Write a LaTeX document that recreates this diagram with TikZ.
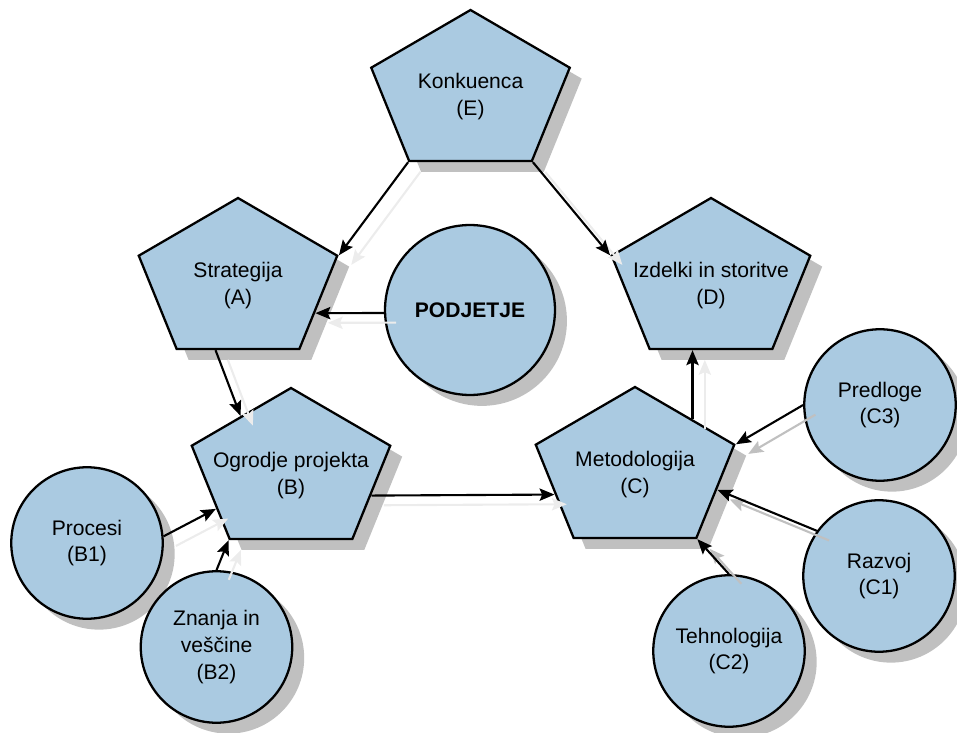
\documentclass[tikz,border=0pt]{standalone}
\usepackage{fontspec}
\setmainfont{Liberation Sans}
\usetikzlibrary{shapes.geometric, shadows, arrows.meta, calc}
\definecolor{nodeblue}{RGB}{170,202,225}
\definecolor{shadegray}{RGB}{192,192,192}

\begin{document}
\begin{tikzpicture}[x=0.02cm, y=-0.02cm,
    every node/.style={font=\fontsize{12}{15.3}\selectfont, align=center},
    pent/.style={regular polygon, regular polygon sides=5, draw, line width=1.3pt, fill=nodeblue,
        inner sep=0pt, minimum size=3.34cm, xscale=1.25,
        drop shadow={shadow xshift=6.8pt, shadow yshift=-6.2pt, opacity=1, fill=shadegray}},
    blob/.style={circle, draw, line width=1.3pt, fill=nodeblue, inner sep=0pt, minimum size=3.03cm,
        drop shadow={shadow xshift=6.8pt, shadow yshift=-6.2pt, opacity=1, fill=shadegray}},
    link/.style={-{Stealth[length=8.5pt, width=7pt, inset=1.5pt]}, line width=1.2pt},
    lshade/.style={preaction={draw=#1, line width=1.2pt, -{Stealth[length=8.5pt, width=7pt, inset=1.5pt]},
        transform canvas={xshift=7pt, yshift=-5.5pt}}},
    lshade/.default=gray!15]
    \useasboundingbox (0,0) rectangle (957,733);

    % Pentagons
    \node[pent] (E) at (470.5,93.5) {};
    \node[pent] (A) at (238,281.5) {};
    \node[pent] (D) at (711,281.5) {};
    \node[pent] (B) at (291,471.5) {};
    \node[pent] (C) at (635,470.5) {};
    \node (E-t) at ([yshift=-1.5pt]E) {Konkuenca\\(E)};
    \node (A-t) at ([yshift=-2.5pt]A) {Strategija\\(A)};
    \node (D-t) at ([yshift=-2.5pt]D) {Izdelki in storitve\\(D)};
    \node (B-t) at ([yshift=-2.5pt]B) {Ogrodje projekta\\(B)};
    \node (C-t) at ([yshift=-2.5pt]C) {Metodologija\\(C)};

    % Circles
    \node[blob, minimum size=3.4cm, font=\fontsize{12}{15.3}\selectfont\bfseries] (pod) at (470,310) {PODJETJE};
    \node[blob] (B1) at (87,543) {Procesi\\(B1)};
    \node[blob] (B2) at (216.5,647) {Znanja in\\veščine\\(B2)};
    \node[blob] (C3) at (880,405) {Predloge\\(C3)};
    \node[blob] (C1) at (879,576) {Razvoj\\(C1)};
    \node[blob] (C2) at (729,651) {Tehnologija\\(C2)};

    % Connectors
    \coordinate (cd) at ($(C.corner 1)!0.57!(C.corner 5)$);
    \draw[link, lshade] (E.corner 3) -- (A.corner 5);
    \draw[link, lshade] (E.corner 4) -- (D.corner 2);
    \draw[link, lshade] (pod.182) -- ($(A.corner 5)!0.61!(A.corner 4)$);
    \draw[link, lshade] ($(A.corner 3)!0.32!(A.corner 4)$) -- (B.side 1);
    \draw[link, lshade] ($(B.corner 5)!0.53!(B.corner 4)$) -- ($(C.corner 2)!0.53!(C.corner 3)$);
    \draw[link, lshade] (cd) -- (cd |- D.side 3);
    \draw[link, lshade] (B1.5) -- ($(B.corner 2)!0.67!(B.corner 3)$);
    \draw[link, lshade] (B2.north) -- (B.corner 3);
    \draw[link, lshade=shadegray] (C3.west) -- (C.corner 5);
    \draw[link, lshade=shadegray] (C1.144) -- ($(C.corner 5)!0.48!(C.corner 4)$);
    \draw[link, lshade=shadegray] (C2.north) -- (C.corner 4);
\end{tikzpicture}
\end{document}
